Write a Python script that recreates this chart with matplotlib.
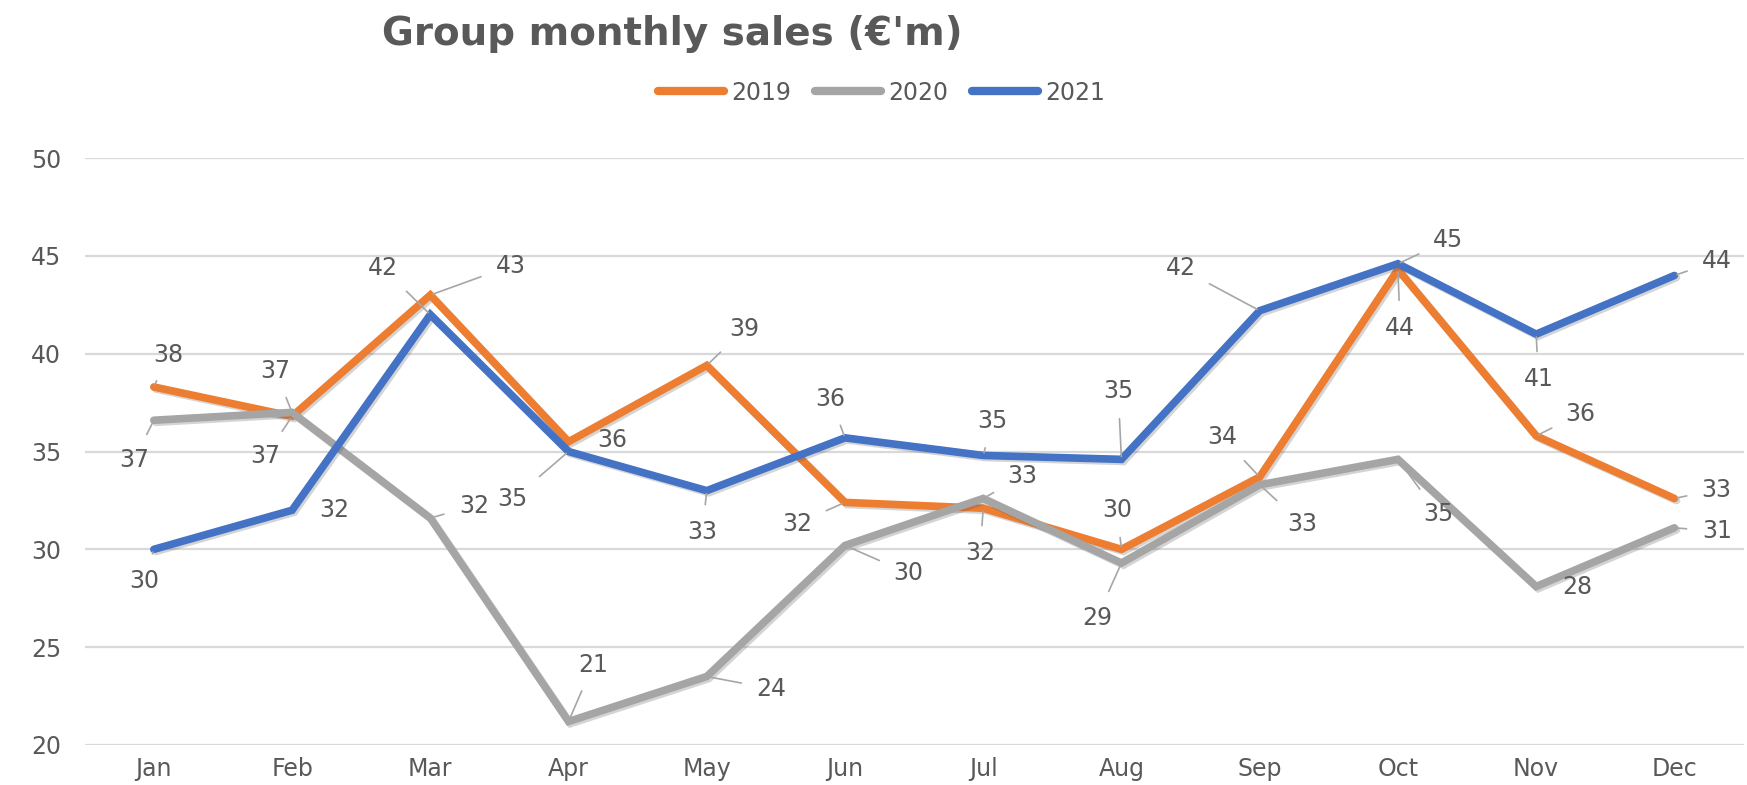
"""Group monthly sales line chart -> out.png."""

import matplotlib

matplotlib.use("Agg")
import matplotlib.patheffects as pe
import matplotlib.pyplot as plt
from matplotlib.lines import Line2D

MONTHS = ["Jan", "Feb", "Mar", "Apr", "May", "Jun", "Jul", "Aug", "Sep", "Oct", "Nov", "Dec"]
YEARS = ["2019", "2020", "2021"]
SALES_2019 = [38.3, 36.8, 43.0, 35.5, 39.4, 32.4, 32.1, 30.0, 33.7, 44.3, 35.8, 32.6]
SALES_2020 = [36.6, 37.0, 31.6, 21.2, 23.5, 30.2, 32.6, 29.3, 33.3, 34.6, 28.1, 31.1]
SALES_2021 = [30.0, 32.0, 42.0, 35.0, 33.0, 35.7, 34.8, 34.6, 42.2, 44.6, 41.0, 44.0]
Y_TICKS = [20, 25, 30, 35, 40, 45, 50]

COLORS = ["#ed7d31", "#a5a5a5", "#4472c4"]
TEXT = "#595959"
GRID = "#d9d9d9"

# label offsets (dx, dy) measured on the shrunk reference, scaled to output pixels below
S = 1747 / 1568
OFFSETS = [
    [(13, 29), (-24, -36), (72, 26), (39, 2), (34, 33), (-43, -19),
     (-3, -40), (-4, 35), (-34, 36), (2, -52), (40, 20), (38, 8)],
    [(-18, -36), (-15, 37), (39, 11), (22, 51), (58, -11), (57, -25),
     (35, 20), (-22, -49), (38, -35), (36, -49), (37, 0), (38, -3)],
    [(-9, -28), (38, 0), (-43, 42), (-50, -43), (-4, -37), (-13, 35),
     (8, 31), (-3, 61), (-71, 38), (45, 21), (2, -40), (38, 13)],
]
NO_LEADER = {(0, 3), (1, 10), (2, 1)}

plt.rcParams.update({"font.family": "DejaVu Sans", "font.size": 17})

fig = plt.figure(figsize=(17.47, 7.85), dpi=100)
ax = fig.add_axes([0.0485, 0.051, 0.9495, 0.7476])

x = list(range(len(MONTHS)))
shadow = [pe.SimpleLineShadow(offset=(1.5, -1.5), alpha=0.25, shadow_color="#555555"), pe.Normal()]
for si, (vals, col) in enumerate(zip([SALES_2019, SALES_2020, SALES_2021], COLORS)):
    ax.plot(x, vals, color=col, lw=5.5, solid_joinstyle="miter", solid_capstyle="round",
            path_effects=shadow, zorder=3 + si)
    for i, v in enumerate(vals):
        dx, dy = OFFSETS[si][i]
        arrow = None
        if (si, i) not in NO_LEADER:
            arrow = dict(arrowstyle="-", color="#a6a6a6", lw=1.2, shrinkA=9, shrinkB=2)
        ax.annotate(f"{v:.0f}", (i, v), xytext=(dx * S, dy * S), textcoords="offset pixels",
                    ha="center", va="center", color=TEXT, fontsize=17,
                    arrowprops=arrow, zorder=8)

ax.set_xlim(-0.5, len(MONTHS) - 0.5)
ax.set_ylim(20, 50)
ax.set_yticks(Y_TICKS)
ax.set_xticks(x, MONTHS)
ax.grid(axis="y", color=GRID, lw=1.6)
ax.set_axisbelow(True)
for sp in ax.spines.values():
    sp.set_visible(False)
ax.tick_params(axis="both", length=0, colors=TEXT, labelsize=17)
ax.tick_params(axis="y", pad=17)
ax.tick_params(axis="x", pad=9)

fig.text(0.3846, 0.957, "Group monthly sales (\u20ac'm)", ha="center", va="center",
         fontsize=28, fontweight="bold", color=TEXT)

handles = [Line2D([], [], color=c, lw=6, solid_capstyle="round") for c in COLORS]
fig.legend(handles, YEARS, loc="center", bbox_to_anchor=(0.5045, 0.882), ncol=3,
           frameon=False, handlelength=2.8, handletextpad=0.3, columnspacing=1.0,
           fontsize=17, labelcolor=TEXT)

fig.savefig("out.png", dpi=100)
